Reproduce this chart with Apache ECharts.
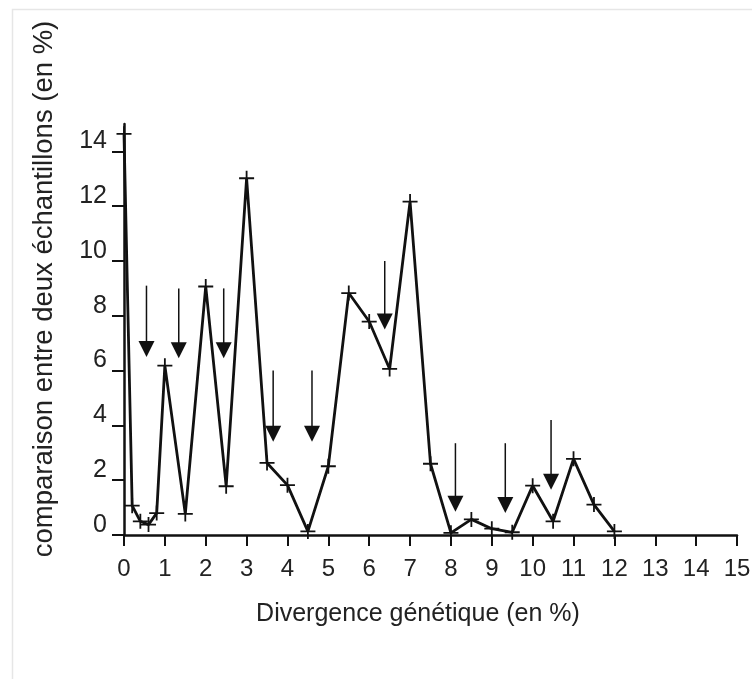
<!DOCTYPE html>
<html>
<head>
<meta charset="utf-8">
<script src="https://cdn.jsdelivr.net/npm/echarts@6/dist/echarts.min.js"></script>
<style>
html,body{margin:0;padding:0;background:#fff;}
#chart{width:752px;height:679px;}
</style>
</head>
<body>
<div id="chart"></div>
<script>
// Divergence génétique (x) and comparison values (y)
const xValues = [0, 0.2, 0.4, 0.6, 0.8, 1, 1.5, 2, 2.5, 3, 3.5, 4, 4.5, 5, 5.5, 6, 6.5, 7, 7.5, 8, 8.5, 9, 9.5, 10, 10.5, 11, 11.5, 12];
const yValues = [14.64, 1.07, 0.5, 0.38, 0.8, 6.18, 0.77, 9.07, 1.78, 13.02, 2.63, 1.82, 0.13, 2.51, 8.83, 7.79, 6.06, 12.17, 2.6, 0.08, 0.57, 0.23, 0.1, 1.8, 0.5, 2.78, 1.11, 0.13];

// Arrows: x position, top of shaft, tip of arrowhead
const arrowX   = [0.55, 1.34, 2.44, 3.65, 4.6, 6.38, 8.11, 9.33, 10.45];
const arrowTop = [9.1, 9.0, 9.0, 6.0, 6.0, 10.0, 3.35, 3.35, 4.2];
const arrowTip = [6.5, 6.45, 6.45, 3.4, 3.4, 7.5, 0.85, 0.8, 1.65];

const xTicks = [0,1,2,3,4,5,6,7,8,9,10,11,12,13,14,15];
const yTicks = [0,2,4,6,8,10,12,14];

const xTitle = 'Divergence génétique (en %)';
const yTitle = 'comparaison entre deux échantillons (en %)';

const FONT = '"Liberation Sans", Arial, Helvetica, sans-serif';
const TXT = '#222';

const lineData = xValues.map((x, i) => [x, yValues[i]]);
const arrowData = arrowX.map((x, i) => [x, arrowTop[i], arrowTip[i]]);

const plusPath = 'path://M-1.2,-10L1.2,-10L1.2,-1.2L10,-1.2L10,1.2L1.2,1.2L1.2,10L-1.2,10L-1.2,1.2L-10,1.2L-10,-1.2L-1.2,-1.2Z';

const chart = echarts.init(document.getElementById('chart'), null, {renderer: 'canvas'});
chart.setOption({
  animation: false,
  backgroundColor: '#fff',
  grid: {left: 124, right: 15, top: 124, bottom: 144, containLabel: false, outerBoundsMode: 'none'},
  xAxis: {
    type: 'value', min: 0, max: 15, interval: 1,
    axisLine: {show: true, lineStyle: {color: '#111', width: 2.5}},
    axisTick: {show: true, length: 11, lineStyle: {color: '#111', width: 2}, customValues: xTicks},
    axisLabel: {margin: 22, fontSize: 24, color: TXT, fontFamily: FONT, customValues: xTicks},
    splitLine: {show: false}
  },
  yAxis: {
    type: 'value', min: 0, max: 15, interval: 1,
    axisLine: {show: true, lineStyle: {color: '#111', width: 2.5}},
    axisTick: {show: true, length: 12, lineStyle: {color: '#111', width: 2}, customValues: yTicks},
    axisLabel: {margin: 17, fontSize: 25, color: TXT, fontFamily: FONT, verticalAlign: 'bottom', lineHeight: 20, customValues: yTicks},
    splitLine: {show: false}
  },
  graphic: [
    {type: 'rect', silent: true, z: -10, shape: {x: 12.5, y: 9.5, width: 900, height: 900}, style: {fill: 'none', stroke: '#e6e6e6', lineWidth: 1.5}},
    {type: 'text', x: 418, y: 614, style: {text: xTitle, font: '25px ' + FONT, fill: TXT, align: 'center', verticalAlign: 'middle'}},
    {type: 'text', x: 44, y: 289, rotation: Math.PI / 2, style: {text: yTitle, font: '27.5px ' + FONT, fill: TXT, align: 'center', verticalAlign: 'middle'}}
  ],
  series: [
    {
      type: 'line',
      data: lineData,
      symbol: plusPath,
      symbolSize: 15,
      showAllSymbol: true,
      lineStyle: {color: '#111', width: 2.8},
      itemStyle: {color: '#111'},
      z: 3
    },
    {
      type: 'custom',
      data: arrowData,
      encode: {x: 0, y: [1, 2]},
      z: 4,
      renderItem: function (params, api) {
        const top = api.coord([api.value(0), api.value(1)]);
        const tip = api.coord([api.value(0), api.value(2)]);
        const h = 16, w = 16;
        return {
          type: 'group',
          children: [
            {type: 'line', shape: {x1: top[0], y1: top[1], x2: tip[0], y2: tip[1] - h + 1}, style: {stroke: '#111', lineWidth: 1.5}},
            {type: 'polygon', shape: {points: [[tip[0] - w / 2, tip[1] - h], [tip[0] + w / 2, tip[1] - h], [tip[0], tip[1]]]}, style: {fill: '#111'}}
          ]
        };
      }
    }
  ]
});
</script>
</body>
</html>
